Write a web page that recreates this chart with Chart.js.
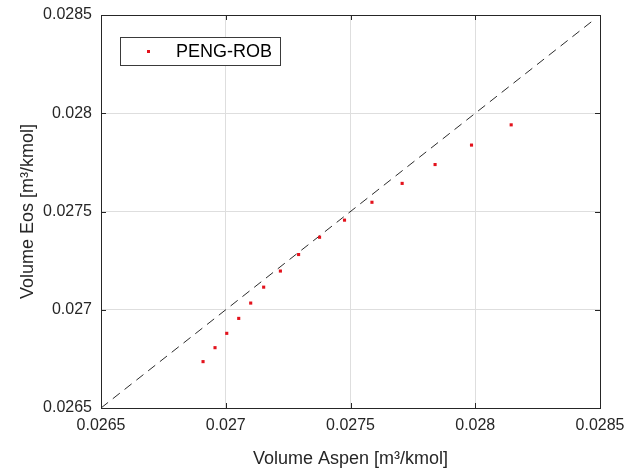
<!DOCTYPE html>
<html>
<head>
<meta charset="utf-8">
<script src="https://cdn.jsdelivr.net/npm/chart.js@4/dist/chart.umd.min.js"></script>
<style>
  html, body { margin: 0; padding: 0; background: #fff; }
  #wrap { width: 634px; height: 474px; }
</style>
</head>
<body>
<div id="wrap"><canvas id="parityChart" width="634" height="474"></canvas></div>
<script>
// molar volumes: Aspen reference vs Peng-Robinson EoS
const volAspen = [0.026909, 0.026957, 0.027004, 0.027052, 0.027100, 0.027152, 0.027219, 0.027292,
                  0.027376, 0.027476, 0.027586, 0.027707, 0.027839, 0.027985, 0.028144];
const volEos   = [0.026736, 0.026807, 0.026880, 0.026956, 0.027034, 0.027115, 0.027197, 0.027281,
                  0.027369, 0.027456, 0.027547, 0.027643, 0.027739, 0.027838, 0.027941];
const parityEnds = [0.0265, 0.02847];
const tickLabels = ["0.0265", "0.027", "0.0275", "0.028", "0.0285"];
const axisMin = 0.0265, axisMax = 0.0285;

const FONT = "'Liberation Sans', Arial, Helvetica, sans-serif";
const INK = "#262626";

// black frame with inward tick marks and a boxed legend
const framePlugin = {
    id: "frame",
    afterDraw(chart) {
        const { ctx, chartArea: a, scales } = chart;
        ctx.save();
        ctx.strokeStyle = INK;
        ctx.lineWidth = 1;
        ctx.beginPath();
        scales.x.ticks.forEach(t => {
            const px = Math.round(scales.x.getPixelForValue(t.value)) + 0.5;
            ctx.moveTo(px, a.bottom); ctx.lineTo(px, a.bottom - 5);
            ctx.moveTo(px, a.top); ctx.lineTo(px, a.top + 5);
        });
        scales.y.ticks.forEach(t => {
            const py = Math.round(scales.y.getPixelForValue(t.value)) + 0.5;
            ctx.moveTo(a.left, py); ctx.lineTo(a.left + 5, py);
            ctx.moveTo(a.right, py); ctx.lineTo(a.right - 5, py);
        });
        ctx.stroke();
        ctx.strokeRect(Math.round(a.left) + 0.5, Math.round(a.top) + 0.5,
                       Math.round(a.right - a.left), Math.round(a.bottom - a.top));

        // legend
        const ds = chart.data.datasets[0];
        const lx = a.left + 19, ly = a.top + 22, lw = 160, lh = 28;
        ctx.fillStyle = "#fff";
        ctx.fillRect(lx, ly, lw, lh);
        ctx.strokeStyle = "#3a3a3a";
        ctx.strokeRect(lx + 0.5, ly + 0.5, lw, lh);
        ctx.fillStyle = ds.backgroundColor;
        ctx.fillRect(lx + 27, ly + 13, 3, 3);
        ctx.fillStyle = "#000";
        ctx.font = "18px " + FONT;
        ctx.textBaseline = "middle";
        ctx.fillText(ds.label, lx + 56, ly + lh / 2 + 1);
        ctx.restore();
    }
};

new Chart(document.getElementById("parityChart"), {
    type: "scatter",
    data: {
        datasets: [
            {
                label: "PENG-ROB",
                data: volAspen.map((v, i) => ({ x: v, y: volEos[i] })),
                backgroundColor: "#e3121c",
                borderColor: "#e3121c",
                pointStyle: "rect",
                pointRadius: 2.2,
                borderWidth: 0,
                order: 1
            },
            {
                type: "line",
                label: "y = x",
                data: parityEnds.map(v => ({ x: v, y: v })),
                borderColor: "#2b2b2b",
                borderWidth: 1,
                borderDash: [9, 6],
                pointRadius: 0,
                fill: false,
                order: 2
            }
        ]
    },
    options: {
        responsive: false,
        animation: false,
        layout: { padding: { left: 0, right: 34, top: 15, bottom: 0 } },
        plugins: {
            legend: { display: false },
            tooltip: { enabled: false }
        },
        scales: {
            x: {
                type: "linear",
                min: axisMin, max: axisMax,
                afterBuildTicks: s => { s.ticks = tickLabels.map(t => ({ value: +t })); },
                afterFit: s => { s.height = 66; },
                ticks: {
                    callback: (v, i) => tickLabels[i],
                    font: { family: FONT, size: 16 },
                    color: INK,
                    padding: 8,
                    maxRotation: 0
                },
                grid: { color: "#dedede", drawTicks: false },
                border: { display: false },
                title: {
                    display: true,
                    text: "Volume Aspen [m³/kmol]",
                    font: { family: FONT, size: 18 },
                    color: INK,
                    padding: { top: 0, bottom: 4 }
                }
            },
            y: {
                type: "linear",
                min: axisMin, max: axisMax,
                afterBuildTicks: s => { s.ticks = tickLabels.map(t => ({ value: +t })); },
                afterFit: s => { s.width = 101; s.paddingTop = 0; s.paddingBottom = 0; },
                ticks: {
                    callback: (v, i) => tickLabels[i],
                    font: { family: FONT, size: 16 },
                    color: INK,
                    padding: 9
                },
                grid: { color: "#dedede", drawTicks: false },
                border: { display: false },
                title: {
                    display: true,
                    text: "Volume Eos [m³/kmol]",
                    font: { family: FONT, size: 18 },
                    color: INK,
                    padding: { top: 17, bottom: 0 }
                }
            }
        }
    },
    plugins: [framePlugin]
});
</script>
</body>
</html>
